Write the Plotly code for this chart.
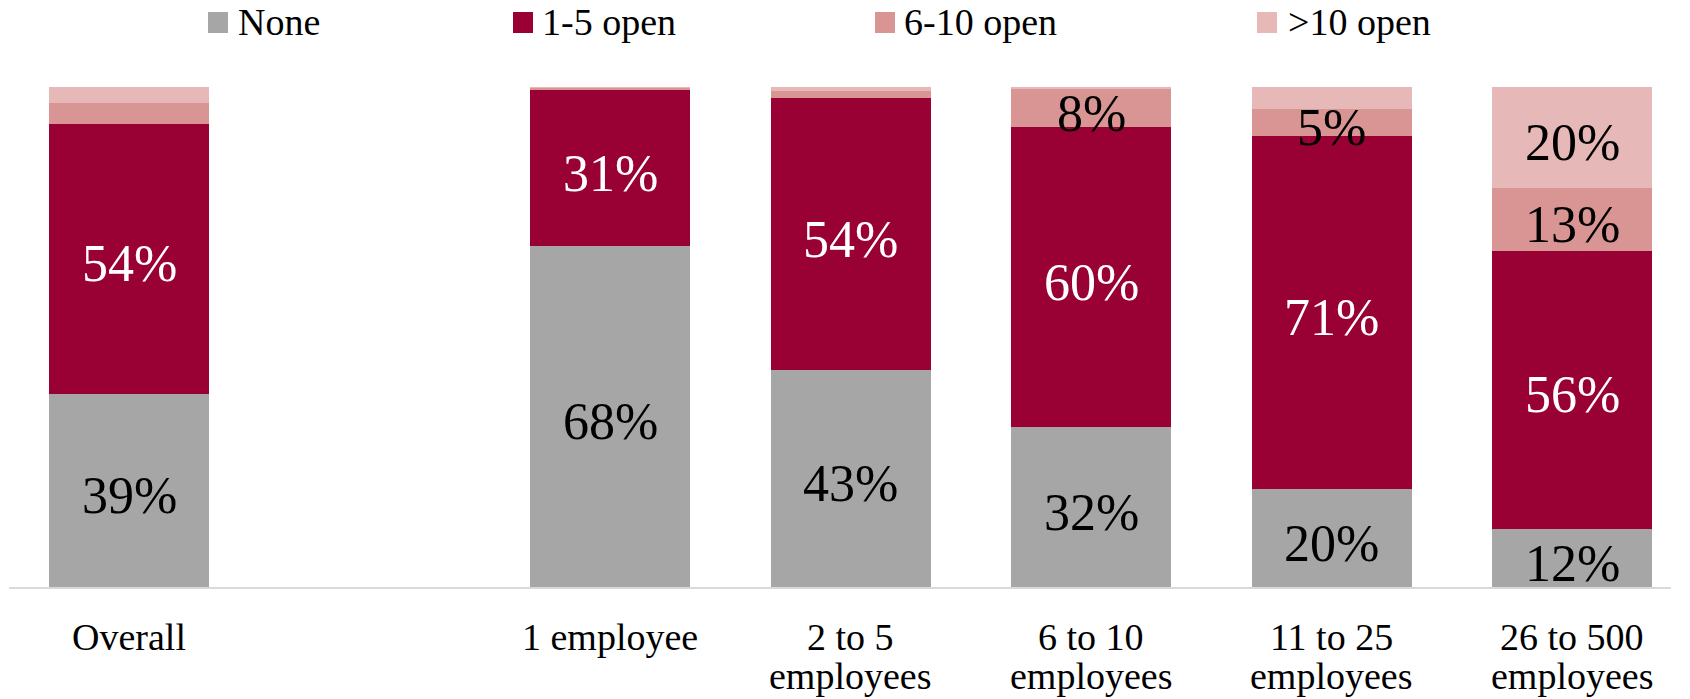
import plotly.graph_objects as go

# Business-size groups (a blank spacer separates "Overall" from the size groups)
categories = ["Overall", " ", "1 employee", "2 to 5 employees", "6 to 10 employees",
              "11 to 25 employees", "26 to 500 employees"]
label_line1 = ["Overall", "", "1 employee", "2 to 5", "6 to 10", "11 to 25", "26 to 500"]
label_line2 = ["", "", "", "employees", "employees", "employees", "employees"]

# Share of businesses by number of open positions (%)
none_open = [38.6, None, 68.2, 43.4, 32.0, 19.6, 11.6]
open_1_5 = [54.1, None, 31.2, 54.4, 60.0, 70.6, 55.7]
open_6_10 = [4.2, None, 0.4, 1.5, 7.6, 5.4, 12.6]
open_gt10 = [3.1, None, 0.2, 0.7, 0.4, 4.4, 20.1]

series_names = ["None", "1-5 open", "6-10 open", ">10 open"]
series_values = [none_open, open_1_5, open_6_10, open_gt10]
series_colors = ["#a6a6a6", "#990033", "#d99594", "#e6b8b7"]
text_colors = ["black", "white", "black", "black"]

FONT = "Liberation Serif"
W, H = 1690, 699
ML, MR, MT, MB = 9, 19, 87, 112
PW, PH = W - ML - MR, H - MT - MB


def paper_x(px):
    return (px - ML) / PW


def paper_y(py):
    return (H - MB - py) / PH


fig = go.Figure()

# Stacked bars
for name, vals, color in zip(series_names, series_values, series_colors):
    fig.add_trace(go.Bar(
        x=categories, y=vals, name=name,
        marker=dict(color=color, line=dict(width=0)),
        showlegend=False, hoverinfo="skip",
    ))

annotations = []

# Percentage labels centred on each segment (segments under 5% stay unlabelled)
base = [0.0] * len(categories)
for vals, tcol in zip(series_values, text_colors):
    for i, v in enumerate(vals):
        if v is None:
            continue
        if v >= 5:
            annotations.append(dict(
                text=f"{v:.0f}%", xref="x", yref="y",
                x=categories[i], y=base[i] + v / 2, yshift=-5,
                xanchor="center", yanchor="middle", showarrow=False,
                font=dict(family=FONT, size=52, color=tcol)))
        base[i] += v

# Legend: colour swatches with their labels across the top
legend_swatch_px = [208, 513, 875, 1257]
legend_text_px = [236, 540, 902, 1286]
shapes = []
for name, color, sx, tx in zip(series_names, series_colors, legend_swatch_px, legend_text_px):
    shapes.append(dict(type="rect", xref="paper", yref="paper",
                       x0=paper_x(sx), x1=paper_x(sx + 20),
                       y0=paper_y(33), y1=paper_y(12),
                       fillcolor=color, line=dict(width=0)))
    annotations.append(dict(text=name, xref="paper", yref="paper",
                            x=paper_x(tx), y=paper_y(21.5),
                            xanchor="left", yanchor="middle", showarrow=False,
                            font=dict(family=FONT, size=38, color="black")))

# Category labels beneath the axis, one annotation per text line
for cat, l1, l2 in zip(categories, label_line1, label_line2):
    for line, py in ((l1, 637), (l2, 676)):
        if line:
            annotations.append(dict(text=line, xref="x", yref="paper",
                                    x=cat, y=paper_y(py),
                                    xanchor="center", yanchor="middle", showarrow=False,
                                    font=dict(family=FONT, size=38, color="black")))

fig.update_layout(
    width=W, height=H,
    margin=dict(l=ML, r=MR, t=MT, b=MB, pad=0),
    barmode="stack", bargap=0.335,
    plot_bgcolor="white", paper_bgcolor="white",
    font=dict(family=FONT, size=38, color="black"),
    xaxis=dict(type="category", categoryorder="array", categoryarray=categories,
               range=[-0.5, 6.41], showline=True, linecolor="#d9d9d9", linewidth=2,
               showticklabels=False, ticks="", showgrid=False, zeroline=False),
    yaxis=dict(range=[0, 100], visible=False, showgrid=False, zeroline=False),
    shapes=shapes, annotations=annotations,
)

fig.write_html("out.html")
